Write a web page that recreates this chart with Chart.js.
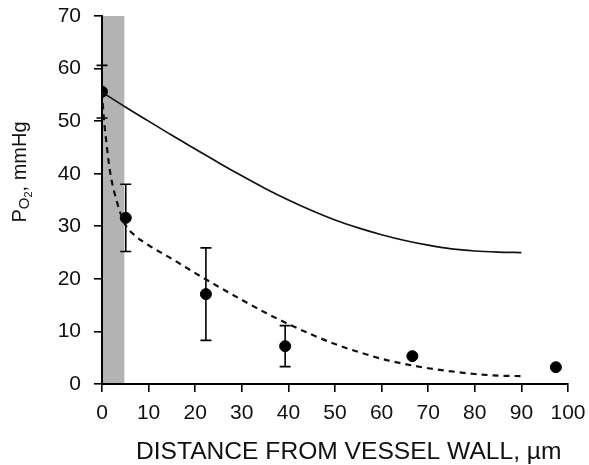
<!DOCTYPE html>
<html>
<head>
<meta charset="utf-8">
<script src="https://cdn.jsdelivr.net/npm/chart.js@4"></script>
<style>
  html, body { margin: 0; padding: 0; background: #fff; }
  #wrap { width: 589px; height: 465px; }
</style>
</head>
<body>
<div id="wrap"><canvas id="c" width="589" height="465"></canvas></div>
<script>
// Measured points (mean ± error)
const pointX = [0, 5.1, 22.3, 39.3, 66.6, 97.4];
const pointY = [55.6, 31.6, 17.1, 7.2, 5.3, 3.2];
const pointErr = [5.0, 6.4, 8.8, 3.9, 0, 0];

// Solid curve
const solidX = [0, 5, 10, 15, 20, 25, 30, 35, 40, 45, 50, 55, 60, 65, 70, 75, 80, 85, 90];
const solidY = [55.5, 52.7, 50.0, 47.3, 44.7, 42.1, 39.6, 37.2, 35.0, 33.0, 31.2, 29.7, 28.4, 27.3, 26.4, 25.7, 25.3, 25.1, 25.0];

// Dashed curve
const dashX = [0, 0.4, 1, 1.5, 2, 3, 4, 5, 7, 10, 15, 20, 25, 30, 35, 40, 45, 50, 55, 60, 65, 70, 75, 80, 85, 90];
const dashY = [55.5, 50.5, 45.5, 41.8, 39.0, 35.3, 32.4, 30.3, 28.3, 26.4, 23.8, 21.1, 18.5, 16.0, 13.6, 11.4, 9.4, 7.6, 6.1, 4.8, 3.8, 3.0, 2.4, 1.9, 1.6, 1.5];

// Shaded vessel-wall band (µm)
const bandRange = [0, 4.8];

// Axis ticks and titles
const xTicks = [0, 10, 20, 30, 40, 50, 60, 70, 80, 90, 100];
const yTicks = [0, 10, 20, 30, 40, 50, 60, 70];
const xTitle = 'DISTANCE FROM VESSEL WALL, µm';

const FONT = '"Liberation Sans", Arial, Helvetica, sans-serif';
const zip = (xs, ys) => xs.map((x, i) => ({x, y: ys[i]}));

const bandPlugin = {
  id: 'band',
  beforeDraw(chart) {
    const {ctx, chartArea, scales} = chart;
    const x0 = scales.x.getPixelForValue(bandRange[0]);
    const x1 = scales.x.getPixelForValue(bandRange[1]);
    ctx.save();
    ctx.fillStyle = '#b3b3b3';
    ctx.fillRect(x0, chartArea.top, x1 - x0, chartArea.bottom - chartArea.top);
    ctx.restore();
  }
};

const errPlugin = {
  id: 'errbars',
  beforeDatasetsDraw(chart) {
    const {ctx, scales} = chart;
    ctx.save();
    ctx.strokeStyle = '#000';
    ctx.lineWidth = 1.6;
    pointX.forEach((xv, i) => {
      const e = pointErr[i];
      if (!e) return;
      const px = scales.x.getPixelForValue(xv);
      const yt = scales.y.getPixelForValue(pointY[i] + e);
      const yb = scales.y.getPixelForValue(pointY[i] - e);
      ctx.beginPath();
      ctx.moveTo(px, yt); ctx.lineTo(px, yb);
      ctx.moveTo(px - 5.5, yt); ctx.lineTo(px + 5.5, yt);
      ctx.moveTo(px - 5.5, yb); ctx.lineTo(px + 5.5, yb);
      ctx.stroke();
    });
    ctx.restore();
  }
};

const titlePlugin = {
  id: 'titles',
  afterDraw(chart) {
    const {ctx} = chart;
    ctx.save();
    ctx.fillStyle = '#111';
    ctx.textBaseline = 'alphabetic';
    // x title
    ctx.font = '24.6px ' + FONT;
    ctx.textAlign = 'left';
    ctx.fillText(xTitle, 136, 459);
    // y title with subscript
    const parts = [
      {t: 'P', size: 20, dy: 0},
      {t: 'O', size: 15, dy: 3},
      {t: '2', size: 11, dy: 6},
      {t: ', mmHg', size: 20, dy: 0}
    ];
    let total = 0;
    parts.forEach(p => { ctx.font = p.size + 'px ' + FONT; p.w = ctx.measureText(p.t).width; total += p.w; });
    ctx.translate(26, 172);
    ctx.rotate(-Math.PI / 2);
    let x = -total / 2;
    parts.forEach(p => {
      ctx.font = p.size + 'px ' + FONT;
      ctx.fillText(p.t, x, p.dy);
      x += p.w;
    });
    ctx.restore();
  }
};

new Chart(document.getElementById('c'), {
  type: 'scatter',
  data: {
    datasets: [
      {
        type: 'line', label: 'solid', data: zip(solidX, solidY),
        borderColor: '#111', borderWidth: 1.7, pointRadius: 0, fill: false,
        cubicInterpolationMode: 'monotone'
      },
      {
        type: 'line', label: 'dashed', data: zip(dashX, dashY),
        borderColor: '#111', borderWidth: 2.2, borderDash: [6, 5], pointRadius: 0, fill: false,
        cubicInterpolationMode: 'monotone'
      },
      {
        label: 'measured', data: zip(pointX, pointY),
        backgroundColor: '#000', borderColor: '#000', pointRadius: 5.5, pointHoverRadius: 5.5
      }
    ]
  },
  options: {
    responsive: false,
    animation: false,
    events: [],
    layout: { padding: { top: 16, right: 21, left: 0, bottom: 0 } },
    plugins: { legend: { display: false }, tooltip: { enabled: false } },
    scales: {
      x: {
        type: 'linear', min: 0, max: 100,
        afterBuildTicks: s => { s.ticks = xTicks.map(v => ({value: v})); },
        afterFit: s => { s.height = 81; s.paddingLeft = 0; s.paddingRight = 0; },
        grid: { drawOnChartArea: false, drawTicks: true, tickLength: 8, color: '#000', lineWidth: 1.6 },
        border: { display: true, color: '#000', width: 2 },
        ticks: { color: '#111', font: { family: FONT, size: 21 }, padding: 9, maxRotation: 0 }
      },
      y: {
        type: 'linear', min: 0, max: 70,
        afterBuildTicks: s => { s.ticks = yTicks.map(v => ({value: v})); },
        afterFit: s => { s.width = 102; s.paddingTop = 0; s.paddingBottom = 0; },
        grid: { drawOnChartArea: false, drawTicks: true, tickLength: 8, color: '#000', lineWidth: 1.6 },
        border: { display: true, color: '#000', width: 2 },
        ticks: { color: '#111', font: { family: FONT, size: 21 }, padding: 13 }
      }
    }
  },
  plugins: [bandPlugin, errPlugin, titlePlugin]
});
</script>
</body>
</html>
